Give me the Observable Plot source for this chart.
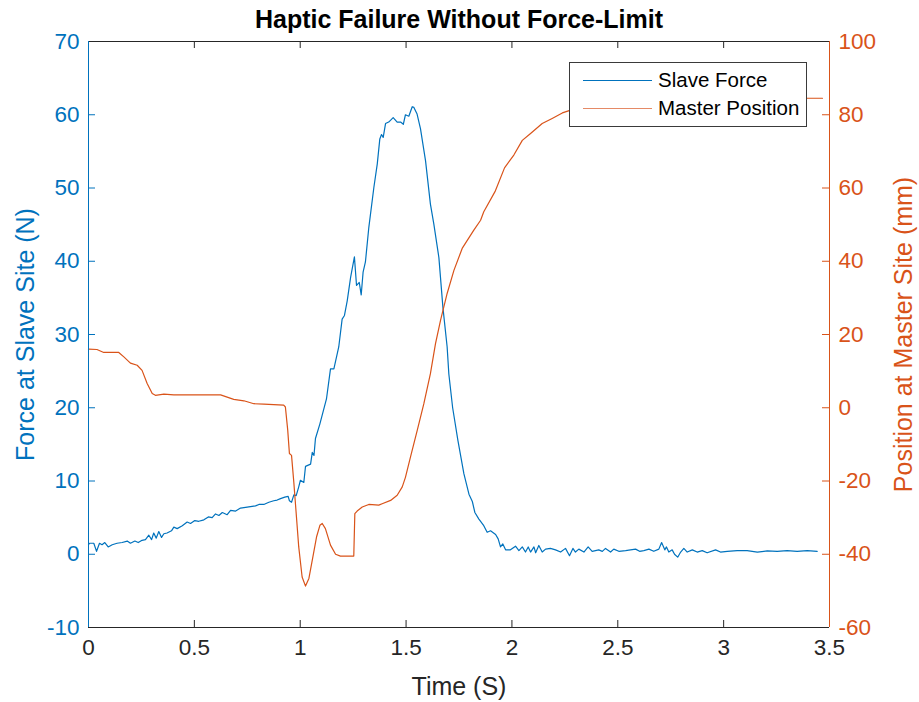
<!DOCTYPE html>
<html>
<head>
<meta charset="utf-8">
<script src="https://cdn.jsdelivr.net/npm/d3@7"></script>
<script src="https://cdn.jsdelivr.net/npm/@observablehq/plot@0.6"></script>
<style>
  html, body { margin: 0; padding: 0; background: #fff; }
  #wrap { position: relative; width: 919px; height: 702px; font-family: "Liberation Sans", Arial, Helvetica, sans-serif; }
  #legend { position: absolute; left: 569px; top: 62px; width: 238px; height: 65px; border: 1px solid #3a3a3a; background: #fff; box-sizing: border-box; }
  .lg-line { position: absolute; left: 13px; width: 69px; height: 0; }
  .lg-text { position: absolute; left: 88px; font-size: 20.5px; color: #000; line-height: 1; white-space: nowrap; }
</style>
</head>
<body>
<div id="wrap">
  <div id="chart"></div>
  <div id="legend">
    <div class="lg-line" style="top:17px;border-top:1.3px solid #0072BD"></div>
    <div class="lg-text" style="top:7px">Slave Force</div>
    <div class="lg-line" style="top:45px;border-top:1.6px solid #E58A66"></div>
    <div class="lg-text" style="top:35px">Master Position</div>
  </div>
</div>
<script>
// ---- data ----
const forceTime = [0.000,0.005,0.025,0.038,0.052,0.064,0.077,0.093,0.112,0.135,0.159,0.183,0.198,0.219,0.235,0.253,0.269,0.285,0.298,0.308,0.320,0.332,0.345,0.356,0.371,0.392,0.403,0.419,0.443,0.466,0.482,0.502,0.521,0.545,0.566,0.584,0.600,0.616,0.632,0.655,0.671,0.695,0.718,0.742,0.765,0.789,0.805,0.828,0.852,0.875,0.891,0.907,0.927,0.943,0.949,0.959,0.970,0.981,0.993,1.001,1.017,1.025,1.049,1.057,1.065,1.072,1.093,1.124,1.143,1.159,1.182,1.198,1.209,1.222,1.238,1.256,1.266,1.279,1.288,1.297,1.308,1.324,1.348,1.364,1.376,1.384,1.392,1.403,1.418,1.439,1.458,1.474,1.487,1.497,1.513,1.529,1.537,1.552,1.568,1.592,1.615,1.631,1.655,1.674,1.694,1.702,1.720,1.745,1.773,1.797,1.813,1.825,1.844,1.867,1.883,1.899,1.923,1.935,1.946,1.957,1.970,1.993,2.017,2.033,2.049,2.064,2.077,2.088,2.104,2.112,2.127,2.143,2.159,2.182,2.206,2.230,2.253,2.272,2.288,2.300,2.316,2.340,2.360,2.379,2.410,2.427,2.442,2.466,2.481,2.505,2.537,2.560,2.584,2.603,2.623,2.647,2.670,2.694,2.707,2.722,2.730,2.741,2.757,2.768,2.783,2.797,2.812,2.828,2.852,2.875,2.899,2.922,2.962,2.985,3.017,3.064,3.111,3.159,3.206,3.253,3.300,3.347,3.395,3.442];
const forceValue = [1.3,1.5,1.5,0.4,1.5,1.3,1.6,1.0,1.3,1.5,1.6,1.8,1.5,1.8,1.6,1.9,2.0,2.6,2.0,2.9,2.2,3.1,2.3,2.8,2.9,3.2,3.7,3.5,3.9,4.4,4.2,4.6,4.5,4.7,5.1,5.0,5.5,5.3,5.7,5.4,6.0,5.9,6.3,6.4,6.5,6.6,6.8,6.8,7.1,7.3,7.4,7.6,7.8,7.9,7.3,7.1,8.1,8.0,9.2,10.1,9.8,12.0,12.3,13.9,13.5,15.8,17.8,21.2,25.3,25.3,28.3,32.1,32.6,34.6,37.8,40.6,36.7,37.1,35.4,38.5,39.9,44.6,50.1,53.3,56.7,57.3,56.9,58.8,59.0,59.6,59.0,59.0,58.7,60.0,59.8,61.1,61.0,60.1,58.1,53.7,47.8,45.1,40.5,33.7,28.3,24.6,20.0,15.5,11.0,8.2,7.2,5.7,4.8,3.9,3.0,3.2,2.7,2.1,1.0,1.4,0.6,0.6,1.1,0.5,1.0,0.3,1.0,0.3,1.0,0.2,1.2,0.3,0.7,0.8,0.6,0.3,0.8,-0.2,0.8,0.3,0.7,0.3,1.0,0.4,0.6,0.4,0.8,0.3,0.7,0.4,0.5,0.6,0.7,0.4,0.5,0.7,0.4,0.7,1.6,0.6,1.0,0.3,0.6,0.0,-0.4,0.3,0.8,0.3,0.6,0.3,0.5,0.2,0.6,0.3,0.4,0.5,0.5,0.3,0.45,0.4,0.5,0.4,0.5,0.4];

const posTime = [0.000,0.040,0.072,0.143,0.167,0.198,0.230,0.253,0.277,0.301,0.316,0.356,0.403,0.624,0.686,0.734,0.781,0.828,0.922,0.930,0.941,0.949,0.959,0.970,0.993,1.009,1.025,1.041,1.057,1.077,1.093,1.104,1.119,1.143,1.167,1.190,1.253,1.258,1.269,1.293,1.324,1.371,1.387,1.427,1.458,1.482,1.497,1.521,1.553,1.584,1.615,1.639,1.663,1.694,1.726,1.765,1.820,1.852,1.867,1.920,1.965,2.009,2.049,2.088,2.143,2.190,2.238,2.274,2.350,2.500,2.700,3.000,3.395,3.467];
const posValue = [16.0,15.9,15.1,15.1,13.9,12.2,11.6,10.2,6.6,3.9,3.4,3.7,3.5,3.5,2.3,1.9,1.1,1.0,0.7,0.2,-6.1,-12.5,-13.0,-20.5,-38.0,-46.2,-48.7,-46.6,-41.6,-35.3,-32.1,-31.6,-33.0,-37.5,-40.0,-40.5,-40.5,-28.9,-28.2,-27.1,-26.4,-26.6,-26.2,-25.3,-23.9,-21.6,-19.0,-13.4,-6.1,1.1,9.3,17.5,23.9,31.2,37.5,43.5,48.5,51.2,53.5,59.0,65.5,69.0,73.0,74.9,77.6,79.0,80.5,81.2,82.0,83.0,83.8,84.2,84.5,84.5];

const xTicks = [0,0.5,1,1.5,2,2.5,3,3.5];
const forceTicks = [-10,0,10,20,30,40,50,60,70];
const posTicks = [-60,-40,-20,0,20,40,60,80,100];

const titleText = "Haptic Failure Without Force-Limit";
const xLabel = "Time (S)";
const leftLabel = "Force at Slave Site (N)";
const rightLabel = "Position at Master Site (mm)";

// ---- build ----
const BLUE = "#0072BD", ORANGE = "#D95319", DARK = "#262626";
const toLeft = p => p / 2 + 20;   // right axis [-60,100] -> left axis [-10,70]
const fromLeft = f => (f - 20) * 2;

const forceData = forceTime.map((t, i) => ({t, v: forceValue[i]}));
const posData = posTime.map((t, i) => ({t, v: toLeft(posValue[i])}));

const W = 919, H = 702, mL = 88, mR = 90, mT = 41, mB = 75;
const fw = W - mL - mR, fh = H - mT - mB, tk = 7;
const TICK_FS = 22.5, LABEL_FS = 25;

const chart = Plot.plot({
  width: W, height: H,
  marginLeft: mL, marginRight: mR, marginTop: mT, marginBottom: mB,
  style: {fontFamily: '"Liberation Sans", Arial, Helvetica, sans-serif', fontSize: TICK_FS + "px", background: "#fff", overflow: "visible"},
  x: {domain: [0, 3.5]},
  y: {domain: [-10, 70]},
  marks: [
    Plot.line(forceData, {x: "t", y: "v", stroke: BLUE, strokeWidth: 1.2}),
    Plot.line(posData, {x: "t", y: "v", stroke: ORANGE, strokeWidth: 1.2}),
    // inward ticks
    Plot.tickX(xTicks, {x: d => d, insetTop: fh - tk, stroke: DARK}),
    Plot.tickX(xTicks, {x: d => d, insetBottom: fh - tk, stroke: DARK}),
    Plot.tickY(forceTicks, {y: d => d, insetRight: fw - tk, stroke: BLUE}),
    Plot.tickY(posTicks.map(toLeft), {y: d => d, insetLeft: fw - tk, stroke: ORANGE}),
    // frame
    Plot.ruleY([70], {stroke: DARK}),
    Plot.ruleY([-10], {stroke: DARK}),
    Plot.ruleX([0], {stroke: BLUE}),
    Plot.ruleX([3.5], {stroke: ORANGE}),
    // axes
    Plot.axisX({ticks: xTicks, tickSize: 0, tickPadding: 12, tickFormat: d => String(d), label: null, fill: DARK, fontSize: TICK_FS}),
    Plot.axisY({ticks: forceTicks, anchor: "left", tickSize: 0, tickPadding: 9, tickFormat: d => String(d), label: null, fill: BLUE, fontSize: TICK_FS}),
    Plot.axisY({ticks: posTicks.map(toLeft), anchor: "right", tickSize: 0, tickPadding: 9, tickFormat: d => String(Math.round(fromLeft(d))), label: null, fill: ORANGE, fontSize: TICK_FS}),
    Plot.text([xLabel], {frameAnchor: "bottom", dy: 59, lineAnchor: "middle", textAnchor: "middle", fill: DARK, fontSize: LABEL_FS}),
    Plot.text([leftLabel], {frameAnchor: "left", dx: -63, rotate: -90, textAnchor: "middle", lineAnchor: "middle", fill: BLUE, fontSize: LABEL_FS}),
    Plot.text([rightLabel], {frameAnchor: "right", dx: 74, rotate: -90, textAnchor: "middle", lineAnchor: "middle", fill: ORANGE, fontSize: LABEL_FS}),
    Plot.text([titleText], {frameAnchor: "top", dy: -22, lineAnchor: "middle", textAnchor: "middle", fill: "#000", fontSize: LABEL_FS, fontWeight: "bold"})
  ]
});
document.getElementById("chart").appendChild(chart);
</script>
</body>
</html>
